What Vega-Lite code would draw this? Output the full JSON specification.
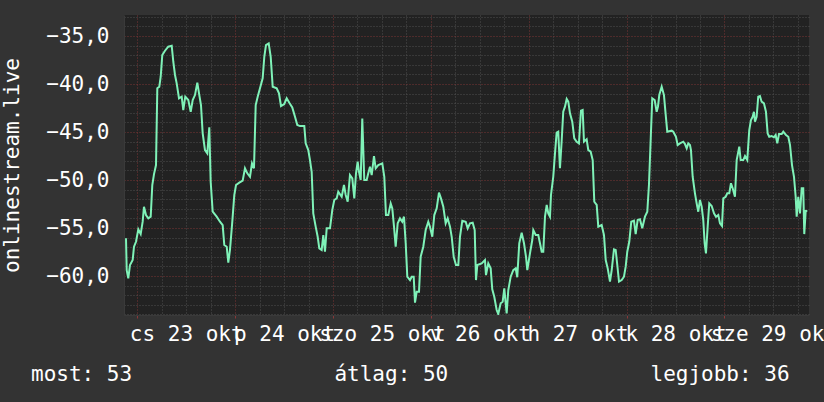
{
  "$schema": "https://vega.github.io/schema/vega-lite/v6.json",
  "width": 685,
  "height": 300,
  "autosize": "none",
  "padding": {"left": 124, "top": 15, "right": 15, "bottom": 87},
  "background": "#333333",
  "config": {
    "view": {"fill": "#222222", "stroke": null},
    "font": "DejaVu Sans Mono"
  },
  "title": {
    "text": "most: 53\u00a0\u00a0\u00a0\u00a0\u00a0\u00a0\u00a0\u00a0\u00a0\u00a0\u00a0\u00a0\u00a0\u00a0\u00a0\u00a0átlag: 50\u00a0\u00a0\u00a0\u00a0\u00a0\u00a0\u00a0\u00a0\u00a0\u00a0\u00a0\u00a0\u00a0\u00a0\u00a0\u00a0legjobb: 36",
    "orient": "bottom",
    "anchor": "start",
    "frame": "group",
    "dx": -93,
    "offset": 20,
    "font": "DejaVu Sans Mono",
    "fontSize": 21,
    "fontWeight": "normal",
    "color": "#ffffff"
  },
  "data": {"values": [
    {"hour": -2.77, "value": -56.07}, {"hour": -2.60, "value": -59.38}, {"hour": -2.21, "value": -60.24}, {"hour": -1.79, "value": -58.85},
    {"hour": -1.13, "value": -58.33}, {"hour": -0.81, "value": -56.95}, {"hour": -0.32, "value": -56.43}, {"hour": 0.25, "value": -55.14},
    {"hour": 0.83, "value": -55.63}, {"hour": 1.32, "value": -54.34}, {"hour": 1.64, "value": -52.78}, {"hour": 2.13, "value": -53.65},
    {"hour": 2.70, "value": -53.99}, {"hour": 3.29, "value": -53.82}, {"hour": 3.68, "value": -50.52}, {"hour": 4.10, "value": -49.38},
    {"hour": 4.59, "value": -48.44}, {"hour": 4.91, "value": -40.45}, {"hour": 5.40, "value": -40.28}, {"hour": 5.74, "value": -39.24},
    {"hour": 6.13, "value": -36.98}, {"hour": 6.79, "value": -36.53}, {"hour": 7.60, "value": -36.11}, {"hour": 8.44, "value": -36.01},
    {"hour": 8.83, "value": -37.68}, {"hour": 9.25, "value": -39.06}, {"hour": 9.66, "value": -39.93}, {"hour": 10.23, "value": -41.49},
    {"hour": 10.89, "value": -41.32}, {"hour": 11.28, "value": -42.71}, {"hour": 11.77, "value": -41.32}, {"hour": 12.51, "value": -41.67},
    {"hour": 13.10, "value": -42.89}, {"hour": 13.59, "value": -41.67}, {"hour": 14.15, "value": -41.15}, {"hour": 14.72, "value": -39.86},
    {"hour": 15.21, "value": -41.15}, {"hour": 15.62, "value": -42.19}, {"hour": 16.04, "value": -45.14}, {"hour": 16.60, "value": -46.88},
    {"hour": 17.17, "value": -47.22}, {"hour": 17.66, "value": -44.51}, {"hour": 18.00, "value": -50.18}, {"hour": 18.49, "value": -53.30},
    {"hour": 19.47, "value": -53.82}, {"hour": 20.28, "value": -54.34}, {"hour": 20.94, "value": -54.69}, {"hour": 21.34, "value": -56.77},
    {"hour": 21.93, "value": -56.95}, {"hour": 22.32, "value": -58.61}, {"hour": 22.73, "value": -57.29}, {"hour": 23.30, "value": -54.34},
    {"hour": 23.79, "value": -51.56}, {"hour": 24.21, "value": -50.52}, {"hour": 25.02, "value": -50.28}, {"hour": 25.85, "value": -50.07},
    {"hour": 26.41, "value": -48.78}, {"hour": 26.98, "value": -49.30}, {"hour": 27.64, "value": -49.66}, {"hour": 28.13, "value": -48.26},
    {"hour": 28.62, "value": -48.78}, {"hour": 29.04, "value": -42.19}, {"hour": 29.53, "value": -41.32}, {"hour": 30.09, "value": -40.45},
    {"hour": 30.75, "value": -39.41}, {"hour": 31.15, "value": -37.16}, {"hour": 31.56, "value": -35.94}, {"hour": 32.23, "value": -35.76},
    {"hour": 32.72, "value": -37.16}, {"hour": 33.21, "value": -40.28}, {"hour": 34.19, "value": -40.45}, {"hour": 34.75, "value": -40.97},
    {"hour": 35.24, "value": -42.29}, {"hour": 36.05, "value": -42.08}, {"hour": 36.64, "value": -41.49}, {"hour": 37.28, "value": -41.95},
    {"hour": 38.01, "value": -42.43}, {"hour": 38.68, "value": -43.41}, {"hour": 39.24, "value": -44.27}, {"hour": 39.90, "value": -44.38},
    {"hour": 40.96, "value": -44.38}, {"hour": 41.30, "value": -46.18}, {"hour": 41.94, "value": -46.88}, {"hour": 42.35, "value": -47.92},
    {"hour": 42.77, "value": -49.14}, {"hour": 43.16, "value": -53.47}, {"hour": 43.75, "value": -54.86}, {"hour": 44.24, "value": -55.91},
    {"hour": 44.64, "value": -57.12}, {"hour": 45.22, "value": -57.29}, {"hour": 45.62, "value": -55.73}, {"hour": 46.03, "value": -57.47},
    {"hour": 46.45, "value": -55.03}, {"hour": 47.26, "value": -55.03}, {"hour": 47.82, "value": -53.13}, {"hour": 48.31, "value": -52.08},
    {"hour": 48.90, "value": -51.91}, {"hour": 49.29, "value": -51.22}, {"hour": 50.13, "value": -51.74}, {"hour": 50.69, "value": -50.52},
    {"hour": 51.11, "value": -51.56}, {"hour": 51.60, "value": -52.26}, {"hour": 52.16, "value": -49.48}, {"hour": 52.73, "value": -49.82},
    {"hour": 53.22, "value": -51.91}, {"hour": 53.64, "value": -49.30}, {"hour": 54.05, "value": -48.09}, {"hour": 54.37, "value": -49.14},
    {"hour": 54.79, "value": -50.00}, {"hour": 55.18, "value": -43.60}, {"hour": 55.67, "value": -50.00}, {"hour": 56.26, "value": -50.00},
    {"hour": 56.65, "value": -49.30}, {"hour": 57.07, "value": -48.61}, {"hour": 57.49, "value": -49.48}, {"hour": 58.05, "value": -47.50},
    {"hour": 58.47, "value": -48.78}, {"hour": 59.10, "value": -48.44}, {"hour": 60.09, "value": -48.26}, {"hour": 60.58, "value": -49.66},
    {"hour": 60.99, "value": -53.65}, {"hour": 61.56, "value": -53.65}, {"hour": 62.15, "value": -52.43}, {"hour": 62.54, "value": -52.95},
    {"hour": 62.96, "value": -54.86}, {"hour": 63.37, "value": -56.95}, {"hour": 63.86, "value": -54.51}, {"hour": 64.43, "value": -53.99},
    {"hour": 64.99, "value": -54.34}, {"hour": 65.41, "value": -53.82}, {"hour": 65.83, "value": -56.59}, {"hour": 66.22, "value": -60.07},
    {"hour": 66.88, "value": -60.42}, {"hour": 67.30, "value": -60.07}, {"hour": 67.79, "value": -60.07}, {"hour": 68.11, "value": -62.78},
    {"hour": 68.52, "value": -61.64}, {"hour": 69.09, "value": -61.64}, {"hour": 69.50, "value": -57.99}, {"hour": 70.14, "value": -56.95},
    {"hour": 70.73, "value": -55.21}, {"hour": 71.37, "value": -54.34}, {"hour": 71.78, "value": -54.86}, {"hour": 72.35, "value": -55.91},
    {"hour": 72.84, "value": -53.65}, {"hour": 73.43, "value": -52.95}, {"hour": 73.99, "value": -51.32}, {"hour": 74.48, "value": -51.91},
    {"hour": 75.05, "value": -52.78}, {"hour": 75.63, "value": -54.51}, {"hour": 76.12, "value": -53.99}, {"hour": 76.69, "value": -54.86},
    {"hour": 77.11, "value": -55.91}, {"hour": 77.60, "value": -57.99}, {"hour": 78.16, "value": -58.85}, {"hour": 78.73, "value": -58.85},
    {"hour": 79.14, "value": -55.91}, {"hour": 79.71, "value": -54.24}, {"hour": 80.54, "value": -54.34}, {"hour": 81.03, "value": -55.03},
    {"hour": 81.59, "value": -54.51}, {"hour": 82.26, "value": -54.45}, {"hour": 82.75, "value": -55.21}, {"hour": 83.07, "value": -60.42},
    {"hour": 83.39, "value": -58.85}, {"hour": 84.46, "value": -58.68}, {"hour": 85.27, "value": -58.33}, {"hour": 85.52, "value": -59.90},
    {"hour": 86.08, "value": -58.68}, {"hour": 86.67, "value": -59.20}, {"hour": 87.06, "value": -61.39}, {"hour": 87.55, "value": -62.16},
    {"hour": 88.14, "value": -63.54}, {"hour": 88.53, "value": -63.96}, {"hour": 89.12, "value": -62.84}, {"hour": 89.61, "value": -62.68},
    {"hour": 90.01, "value": -61.28}, {"hour": 90.59, "value": -63.89}, {"hour": 90.99, "value": -61.46}, {"hour": 91.58, "value": -60.07},
    {"hour": 92.21, "value": -59.38}, {"hour": 92.80, "value": -59.20}, {"hour": 93.19, "value": -60.13}, {"hour": 93.68, "value": -56.59},
    {"hour": 94.27, "value": -55.49}, {"hour": 94.84, "value": -56.59}, {"hour": 95.33, "value": -57.99}, {"hour": 95.65, "value": -59.38},
    {"hour": 96.31, "value": -57.64}, {"hour": 96.87, "value": -56.25}, {"hour": 97.12, "value": -55.21}, {"hour": 97.71, "value": -55.73},
    {"hour": 98.34, "value": -55.73}, {"hour": 98.76, "value": -56.59}, {"hour": 99.18, "value": -57.47}, {"hour": 99.57, "value": -57.47},
    {"hour": 99.99, "value": -53.82}, {"hour": 100.41, "value": -52.60}, {"hour": 100.80, "value": -53.47}, {"hour": 101.21, "value": -53.82},
    {"hour": 101.46, "value": -51.56}, {"hour": 102.02, "value": -49.66}, {"hour": 102.44, "value": -47.22}, {"hour": 102.85, "value": -45.07},
    {"hour": 103.24, "value": -44.97}, {"hour": 103.66, "value": -48.78}, {"hour": 104.07, "value": -46.01}, {"hour": 104.47, "value": -42.89},
    {"hour": 104.89, "value": -42.36}, {"hour": 105.31, "value": -41.56}, {"hour": 105.70, "value": -41.84}, {"hour": 106.12, "value": -43.05},
    {"hour": 106.68, "value": -43.93}, {"hour": 107.17, "value": -45.66}, {"hour": 107.76, "value": -46.01}, {"hour": 108.32, "value": -46.18},
    {"hour": 108.81, "value": -42.78}, {"hour": 109.23, "value": -42.71}, {"hour": 109.55, "value": -46.01}, {"hour": 110.21, "value": -45.76},
    {"hour": 110.61, "value": -46.88}, {"hour": 111.19, "value": -47.05}, {"hour": 111.69, "value": -47.92}, {"hour": 112.08, "value": -52.26},
    {"hour": 112.67, "value": -52.60}, {"hour": 113.06, "value": -54.86}, {"hour": 113.89, "value": -54.69}, {"hour": 114.46, "value": -55.73},
    {"hour": 114.88, "value": -58.33}, {"hour": 115.37, "value": -59.20}, {"hour": 115.93, "value": -60.59}, {"hour": 116.35, "value": -59.38},
    {"hour": 116.91, "value": -57.22}, {"hour": 117.33, "value": -57.29}, {"hour": 117.72, "value": -58.85}, {"hour": 118.14, "value": -60.59},
    {"hour": 118.80, "value": -60.42}, {"hour": 119.36, "value": -60.07}, {"hour": 119.78, "value": -59.03}, {"hour": 120.17, "value": -57.47},
    {"hour": 120.66, "value": -56.43}, {"hour": 121.15, "value": -54.34}, {"hour": 121.81, "value": -54.24}, {"hour": 122.23, "value": -55.63},
    {"hour": 122.72, "value": -54.17}, {"hour": 123.28, "value": -54.09}, {"hour": 123.84, "value": -55.03}, {"hour": 124.51, "value": -53.82},
    {"hour": 125.08, "value": -53.30}, {"hour": 125.49, "value": -50.50}, {"hour": 125.94, "value": -45.49}, {"hour": 126.30, "value": -41.49},
    {"hour": 126.89, "value": -41.67}, {"hour": 127.38, "value": -42.89}, {"hour": 127.70, "value": -42.36}, {"hour": 128.02, "value": -41.15},
    {"hour": 128.61, "value": -40.28}, {"hour": 129.17, "value": -41.15}, {"hour": 129.49, "value": -42.71}, {"hour": 129.98, "value": -44.97},
    {"hour": 131.06, "value": -44.86}, {"hour": 131.45, "value": -44.97}, {"hour": 132.11, "value": -45.49}, {"hour": 132.53, "value": -46.35},
    {"hour": 133.09, "value": -46.18}, {"hour": 133.90, "value": -46.01}, {"hour": 134.32, "value": -46.25}, {"hour": 134.74, "value": -46.70},
    {"hour": 135.13, "value": -46.18}, {"hour": 135.55, "value": -46.35}, {"hour": 135.79, "value": -46.88}, {"hour": 136.21, "value": -49.66},
    {"hour": 136.77, "value": -51.39}, {"hour": 137.19, "value": -52.43}, {"hour": 137.58, "value": -53.30}, {"hour": 138.00, "value": -52.08},
    {"hour": 138.42, "value": -52.78}, {"hour": 138.81, "value": -54.17}, {"hour": 139.15, "value": -56.59}, {"hour": 139.47, "value": -57.64},
    {"hour": 139.89, "value": -54.86}, {"hour": 140.28, "value": -52.43}, {"hour": 140.87, "value": -52.71}, {"hour": 141.44, "value": -53.47},
    {"hour": 141.93, "value": -53.82}, {"hour": 142.49, "value": -53.65}, {"hour": 142.91, "value": -54.51}, {"hour": 143.40, "value": -54.79},
    {"hour": 143.72, "value": -51.91}, {"hour": 144.30, "value": -51.74}, {"hour": 144.70, "value": -51.39}, {"hour": 145.19, "value": -51.39},
    {"hour": 145.60, "value": -50.34}, {"hour": 146.02, "value": -50.86}, {"hour": 146.58, "value": -51.74}, {"hour": 147.00, "value": -47.92},
    {"hour": 147.64, "value": -46.53}, {"hour": 147.98, "value": -47.92}, {"hour": 148.62, "value": -47.92}, {"hour": 149.04, "value": -47.50},
    {"hour": 149.60, "value": -47.92}, {"hour": 150.09, "value": -44.79}, {"hour": 150.51, "value": -43.75}, {"hour": 150.92, "value": -43.41},
    {"hour": 151.24, "value": -42.89}, {"hour": 151.49, "value": -43.93}, {"hour": 151.90, "value": -43.41}, {"hour": 152.29, "value": -41.32},
    {"hour": 152.71, "value": -41.25}, {"hour": 153.12, "value": -41.84}, {"hour": 153.69, "value": -42.01}, {"hour": 154.18, "value": -42.89},
    {"hour": 154.60, "value": -45.14}, {"hour": 154.99, "value": -45.49}, {"hour": 155.58, "value": -45.42}, {"hour": 156.15, "value": -45.55},
    {"hour": 156.56, "value": -45.31}, {"hour": 156.96, "value": -46.18}, {"hour": 157.38, "value": -45.21}, {"hour": 158.04, "value": -45.21},
    {"hour": 158.43, "value": -44.97}, {"hour": 159.09, "value": -45.31}, {"hour": 159.66, "value": -45.49}, {"hour": 160.08, "value": -46.35},
    {"hour": 160.57, "value": -48.44}, {"hour": 161.06, "value": -49.66}, {"hour": 161.47, "value": -51.74}, {"hour": 161.72, "value": -53.82},
    {"hour": 162.11, "value": -51.74}, {"hour": 162.53, "value": -53.47}, {"hour": 162.95, "value": -50.86}, {"hour": 163.33, "value": -50.86},
    {"hour": 163.58, "value": -55.63}, {"hour": 163.93, "value": -53.22}, {"hour": 164.32, "value": -53.22}
  ]},
  "mark": {"type": "line", "color": "#7ff2b8", "strokeWidth": 2, "clip": true},
  "encoding": {
    "x": {
      "field": "hour",
      "type": "quantitative",
      "scale": {"domain": [-3.26, 164.74], "nice": false, "zero": false},
      "axis": {
        "title": null,
        "values": [0, 6, 12, 18, 24, 30, 36, 42, 48, 54, 60, 66, 72, 78, 84, 90, 96, 102, 108, 114, 120, 126, 132, 138, 144, 150, 156, 162],
        "labelExpr": "datum.value % 24 == 12 ? ['cs 23 okt','p 24 okt','szo 25 okt','v 26 okt','h 27 okt','k 28 okt','sze 29 okt'][floor(datum.value / 24)] : ''",
        "labelOverlap": false,
        "labelBound": false,
        "labelFlush": false,
        "labelFont": "DejaVu Sans Mono",
        "labelFontSize": 21,
        "labelColor": "#ffffff",
        "labelPadding": 5,
        "ticks": true,
        "tickSize": 3,
        "tickColor": {"condition": {"test": "datum.value % 24 == 0", "value": "#8a3838"}, "value": "#333333"},
        "domain": true,
        "domainColor": "#3a3a3a",
        "domainWidth": 1,
        "grid": true,
        "gridColor": {"condition": {"test": "datum.value % 24 == 0", "value": "#7a3434"}, "value": "#4e4e4e"},
        "gridDash": [1, 2],
        "gridWidth": 1
      }
    },
    "y": {
      "field": "value",
      "type": "quantitative",
      "scale": {"domain": [-64.06, -32.81], "nice": false, "zero": false},
      "axis": {
        "title": "onlinestream.live",
        "titleFont": "DejaVu Sans Mono",
        "titleFontSize": 21,
        "titleFontWeight": "normal",
        "titleColor": "#ffffff",
        "titlePadding": 23,
        "values": [-64, -63, -62, -61, -60, -59, -58, -57, -56, -55, -54, -53, -52, -51, -50, -49, -48, -47, -46, -45, -44, -43, -42, -41, -40, -39, -38, -37, -36, -35, -34, -33],
        "labelExpr": "datum.value % 5 == 0 ? replace(format(datum.value, '.1f'), '.', ',') : ''",
        "labelOverlap": false,
        "labelBound": false,
        "labelFlush": false,
        "labelFont": "DejaVu Sans Mono",
        "labelFontSize": 21,
        "labelColor": "#ffffff",
        "labelPadding": 15,
        "ticks": false,
        "domain": true,
        "domainColor": "#3a3a3a",
        "grid": true,
        "gridColor": {"condition": {"test": "datum.value % 5 == 0", "value": "#7a3434"}, "value": "#4e4e4e"},
        "gridDash": [1, 2],
        "gridWidth": 1
      }
    }
  }
}
